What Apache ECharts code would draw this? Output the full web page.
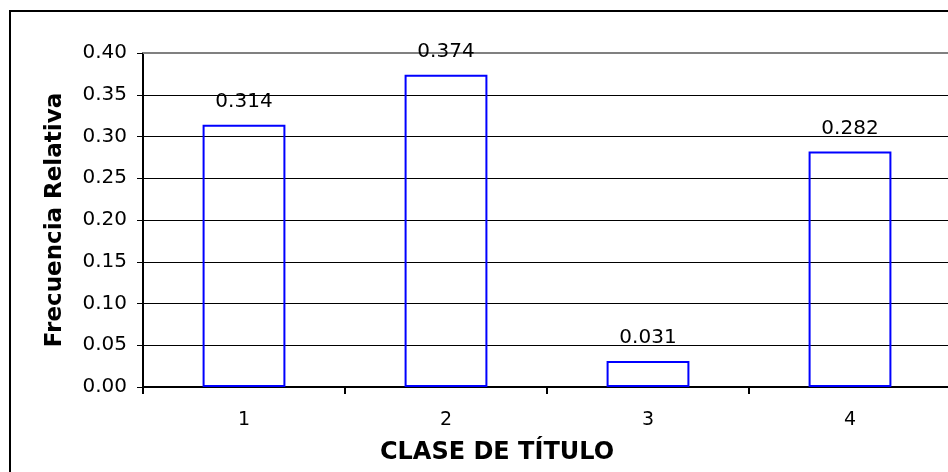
<!DOCTYPE html>
<html>
<head>
<meta charset="utf-8">
<script src="https://cdn.jsdelivr.net/npm/echarts@6/dist/echarts.min.js"></script>
<style>
  html, body { margin: 0; padding: 0; background: #fff; }
  #chart { width: 948px; height: 472px; }
</style>
</head>
<body>
<div id="chart"></div>
<script>
const categories = ["1", "2", "3", "4"];
const frecuencia = [0.314, 0.374, 0.031, 0.282];
const yTicks = { min: 0, max: 0.4, interval: 0.05 };

const FONT = "DejaVu Sans";

const chart = echarts.init(document.getElementById("chart"));

chart.setOption({
  animation: false,
  textStyle: { fontFamily: FONT, color: "#000" },
  grid: { left: 143, top: 53, width: 808, height: 334, outerBoundsMode: "none" },
  graphic: [
    // outer chart-area border (runs off the canvas at right/bottom)
    {
      type: "rect",
      shape: { x: 10, y: 11, width: 1000, height: 1000 },
      style: { fill: "none", stroke: "#000", lineWidth: 2 },
      silent: true,
    },
    {
      type: "text",
      x: 497,
      y: 453,
      style: {
        text: "CLASE DE TÍTULO",
        font: "bold 24px " + FONT,
        fill: "#000",
        textAlign: "center",
        textVerticalAlign: "middle",
      },
    },
  ],
  xAxis: [
    {
      type: "category",
      data: categories,
      axisLine: { lineStyle: { color: "#000", width: 2 } },
      axisTick: { show: true, length: 7, lineStyle: { color: "#000", width: 2 } },
      axisLabel: { color: "#000", fontSize: 19, margin: 24, fontFamily: FONT },
      splitLine: { show: false },
    },
    {
      type: "category",
      data: categories,
      position: "top",
      axisLine: { lineStyle: { color: "#808080", width: 2 } },
      axisTick: { show: false },
      axisLabel: { show: false },
    },
  ],
  yAxis: {
    type: "value",
    min: yTicks.min,
    max: yTicks.max,
    interval: yTicks.interval,
    name: "Frecuencia Relativa",
    nameLocation: "middle",
    nameGap: 76,
    nameTextStyle: { fontSize: 23, fontWeight: "bold", color: "#000", fontFamily: FONT },
    axisLine: { show: true, lineStyle: { color: "#000", width: 2 } },
    axisTick: { show: true, length: 6, lineStyle: { color: "#000", width: 1 } },
    axisLabel: {
      color: "#000",
      fontSize: 20,
      margin: 16,
      fontFamily: FONT,
      formatter: (v) => v.toFixed(2),
    },
    splitLine: { lineStyle: { color: "#000", width: 1 } },
  },
  series: [
    {
      type: "bar",
      data: frecuencia,
      barWidth: "41%",
      itemStyle: { color: "rgba(0,0,0,0)", borderColor: "#0000ff", borderWidth: 2 },
      label: {
        show: true,
        position: "top",
        distance: 13,
        fontSize: 20,
        color: "#000",
        fontFamily: FONT,
        formatter: (p) => p.value.toFixed(3),
      },
    },
  ],
});
</script>
</body>
</html>
